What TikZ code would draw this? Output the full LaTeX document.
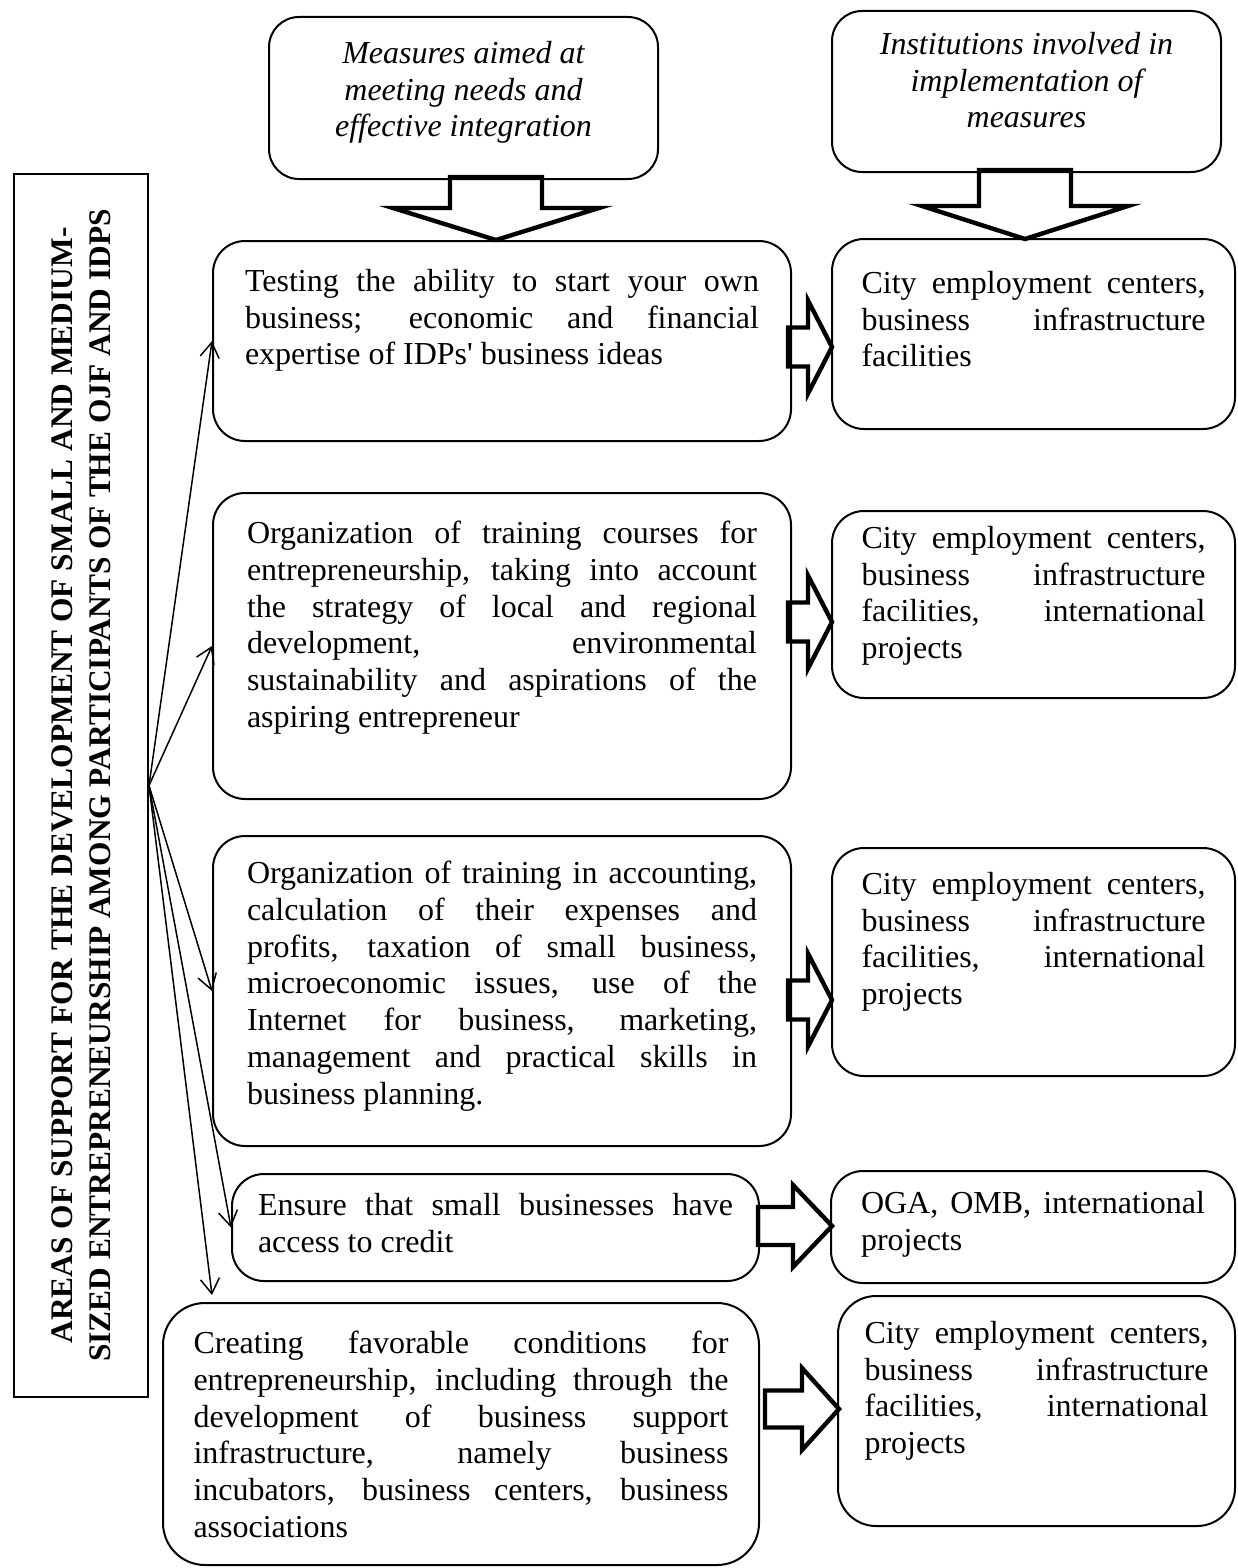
\documentclass[tikz,border=0pt]{standalone}
\usepackage{fontspec}
\setmainfont{Liberation Serif}
\usepackage{graphicx}
\usetikzlibrary{calc,arrows.meta}

% hollow block arrows, tip first
\newcommand{\rblock}[5]{\draw[block] (#1) -- ++(-#3,-#5) -- ++(0,{#5-#4}) -- ++(-#2,0) -- ++(0,{2*#4}) -- ++(#2,0) -- ++(0,{#5-#4}) -- cycle;}
\newcommand{\dblock}[5]{\draw[block] (#1) -- ++(-#5,-#3) -- ++({#5-#4},0) -- ++(0,-#2) -- ++({2*#4},0) -- ++(0,#2) -- ++({#5-#4},0) -- cycle;}
\newcommand{\txt}[3]{\parbox[c][#2][t]{#1}{\tolerance=10000\hbadness=10000 #3}}

\begin{document}
\begin{tikzpicture}[x=0.5pt,y=-0.5pt,
  font=\fontsize{16}{18.4}\selectfont,
  cell/.style={draw, line width=1pt, rounded corners=16pt, inner sep=0pt, anchor=north west},
  block/.style={line width=2.2pt, miter limit=20},
  fan/.style={line width=0.75pt, -{Straight Barb[length=7.5pt,width=9.5pt]}}]
\useasboundingbox (0,0) rectangle (1237,1568);

% headers
\node[cell, rounded corners=15pt, minimum width=194.5pt, minimum height=81pt] (HM) at (268,16)
  {\txt{185pt}{57pt}{\centering\itshape Measures aimed at\\ meeting needs and\\ effective integration}};
\node[cell, rounded corners=15pt, minimum width=194.5pt, minimum height=80.5pt] (HI) at (831,10)
  {\txt{185pt}{59.5pt}{\centering\itshape Institutions involved in\\ implementation of\\ measures}};

% side box
\node[draw, line width=1pt, inner sep=0pt, anchor=north west, minimum width=67pt, minimum height=611.5pt] (S) at (13,173)
  {\rotatebox{90}{\parbox{600pt}{\centering\bfseries\fontsize{15.7}{19}\selectfont
   AREAS OF SUPPORT FOR THE DEVELOPMENT OF SMALL AND MEDIUM-\\
   SIZED ENTREPRENEURSHIP AMONG PARTICIPANTS OF THE OJF AND IDPS}}\hspace{6pt}};

% measures
\node[cell, minimum width=289pt, minimum height=100pt] (M1) at (212,240)
  {\txt{257pt}{72pt}{Testing the ability to start your own\linebreak business; economic and financial\linebreak expertise of IDPs\textquotesingle\ business ideas}};
\node[cell, minimum width=289pt, minimum height=153pt] (M2) at (212,492)
  {\txt{255pt}{125pt}{Organization of training courses for\linebreak entrepreneurship, taking into account\linebreak the strategy of local and regional\linebreak development, environmental\linebreak sustainability and aspirations of the\linebreak aspiring entrepreneur}};
\node[cell, minimum width=289pt, minimum height=155pt] (M3) at (212,835)
  {\txt{255pt}{130pt}{Organization of training in accounting,\linebreak calculation of their expenses and\linebreak profits, taxation of small business,\linebreak microeconomic issues, use of the\linebreak Internet for business, marketing,\linebreak management and practical skills in\linebreak business planning.}};
\node[cell, minimum width=263.5pt, minimum height=53.5pt] (M4) at (231,1173)
  {\txt{237.5pt}{34.5pt}{Ensure that small businesses have\linebreak access to credit}};
\node[cell, rounded corners=21pt, minimum width=298pt, minimum height=131pt] (M5) at (162,1302)
  {\txt{267.5pt}{103pt}{Creating favorable conditions for\linebreak entrepreneurship, including through the\linebreak development of business support\linebreak infrastructure, namely business\linebreak incubators, business centers, business\linebreak associations}};

% institutions
\node[cell, minimum width=201.5pt, minimum height=95pt] (I1) at (831,238)
  {\txt{172pt}{63pt}{City employment centers,\linebreak business infrastructure\linebreak facilities}};
\node[cell, minimum width=201.5pt, minimum height=93.5pt] (I2) at (831,510)
  {\txt{172pt}{78.5pt}{City employment centers,\linebreak business infrastructure\linebreak facilities, international\linebreak projects}};
\node[cell, minimum width=201.5pt, minimum height=114pt] (I3) at (831,847)
  {\txt{172pt}{90pt}{City employment centers,\linebreak business infrastructure\linebreak facilities, international\linebreak projects}};
\node[cell, minimum width=202pt, minimum height=56pt] (I4) at (830,1170)
  {\txt{172pt}{36pt}{OGA, OMB, international\linebreak projects}};
\node[cell, rounded corners=19pt, minimum width=198.5pt, minimum height=115pt] (I5) at (837,1295)
  {\txt{172pt}{90pt}{City employment centers,\linebreak business infrastructure\linebreak facilities, international\linebreak projects}};

% block arrows
\dblock{496,240}{31}{32}{46}{103}
\dblock{1025,239}{36}{33}{46}{103}
\rblock{832,347}{20}{24}{19.5}{46.5}
\rblock{832,622}{20}{24}{19.5}{46.5}
\rblock{832,1000}{20}{24}{19.5}{46.5}
\rblock{832,1226}{35}{39}{19}{41}
\rblock{839,1409}{37}{37}{18.5}{41}

% fan from the side box
\foreach \m in {M1,M2,M3,M4}
  \draw[fan] (S.east) -- (\m.west);
\draw[fan] (S.east) -- ([xshift=25pt,yshift=3.5pt]M5.north west);
\end{tikzpicture}
\end{document}
